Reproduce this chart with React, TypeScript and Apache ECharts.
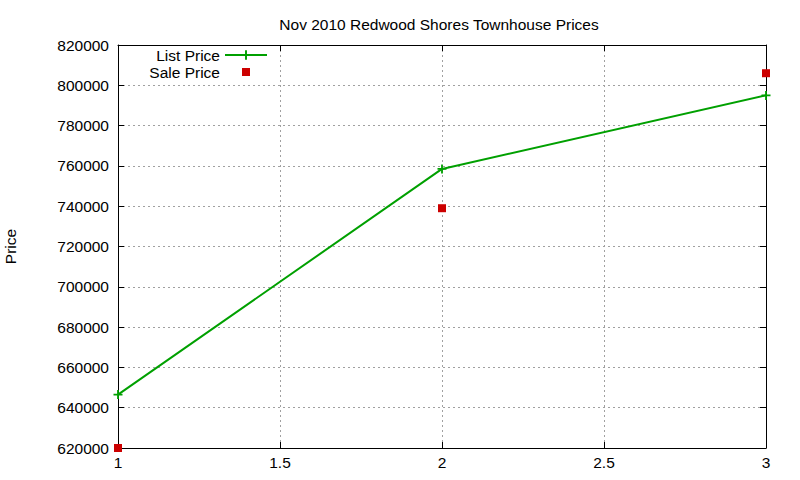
import { useEffect, useRef } from "react";
import * as echarts from "echarts";

const xValues = [1, 2, 3];
const listPrices = [646500, 758500, 795000];
const salePrices = [620000, 739000, 806000];

const FONT = "Liberation Sans, Arial, sans-serif";
const FS = 15.5;
const PLUS = "path://M4,0H6V4H10V6H6V10H4V6H0V4H4Z";

export default function App() {
  const ref = useRef<HTMLDivElement | null>(null);

  useEffect(() => {
    if (!ref.current) return;
    const chart = echarts.init(ref.current, undefined, { renderer: "svg" });

    const tick = { show: true, inside: true, length: 6, lineStyle: { color: "#000" } };
    const line = { show: true, onZero: false, lineStyle: { color: "#000", width: 1 } };
    const grid = { show: true, lineStyle: { color: "#a0a0a0", type: [2, 3], width: 1 } };

    chart.setOption({
      animation: false,
      backgroundColor: "#fff",
      title: {
        text: "Nov 2010 Redwood Shores Townhouse Prices",
        left: 434,
        textAlign: "center",
        top: 11,
        textStyle: { fontFamily: FONT, fontSize: FS, fontWeight: "normal", color: "#000" },
      },
      legend: {
        orient: "vertical",
        align: "right",
        right: 532,
        top: 47,
        padding: 0,
        itemGap: 1,
        itemWidth: 42,
        itemHeight: 12,
        textStyle: { fontFamily: FONT, fontSize: FS, lineHeight: 15, color: "#000" },
        data: [
          { name: "List Price" },
          { name: "Sale Price", icon: "path://M0,0M2,2H10V10H2ZM12,12" },
        ],
      },
      grid: { left: 118, right: 34, top: 45, bottom: 32, outerBoundsMode: "none" },
      xAxis: [
        {
          type: "value",
          min: 1,
          max: 3,
          interval: 0.5,
          axisLine: line,
          axisTick: tick,
          splitLine: grid,
          axisLabel: { fontFamily: FONT, fontSize: FS, color: "#000", margin: 6 },
        },
        {
          type: "value",
          position: "top",
          min: 1,
          max: 3,
          interval: 0.5,
          axisLine: line,
          axisTick: tick,
          splitLine: { show: false },
          axisLabel: { show: false },
        },
      ],
      yAxis: [
        {
          type: "value",
          min: 620000,
          max: 820000,
          interval: 20000,
          name: "Price",
          nameLocation: "middle",
          nameGap: 100,
          nameTextStyle: { fontFamily: FONT, fontSize: FS, color: "#000" },
          axisLine: line,
          axisTick: tick,
          splitLine: grid,
          axisLabel: {
            fontFamily: FONT,
            fontSize: FS,
            color: "#000",
            margin: 9,
            formatter: (v: number) => String(v),
          },
        },
        {
          type: "value",
          position: "right",
          min: 620000,
          max: 820000,
          interval: 20000,
          axisLine: line,
          axisTick: tick,
          splitLine: { show: false },
          axisLabel: { show: false },
        },
      ],
      series: [
        {
          name: "List Price",
          type: "line",
          data: xValues.map((x, i) => [x, listPrices[i]]),
          symbol: PLUS,
          symbolSize: 9,
          showAllSymbol: true,
          clip: false,
          itemStyle: { color: "#00a000" },
          lineStyle: { color: "#00a000", width: 2 },
        },
        {
          name: "Sale Price",
          type: "scatter",
          data: xValues.map((x, i) => [x, salePrices[i]]),
          symbol: "rect",
          symbolSize: 8,
          clip: false,
          itemStyle: { color: "#cc0000", opacity: 1 },
        },
      ],
    });

    return () => chart.dispose();
  }, []);

  return (
    <div
      ref={ref}
      style={{ position: "absolute", left: 0, top: 0, width: 800, height: 480 }}
    />
  );
}
